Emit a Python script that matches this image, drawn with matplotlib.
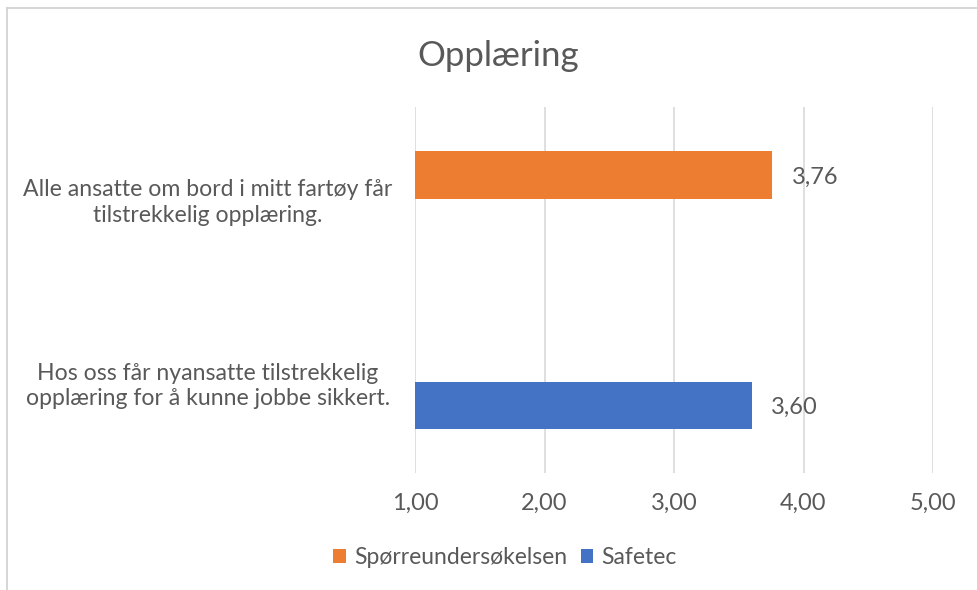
import matplotlib
matplotlib.use("Agg")
import matplotlib.pyplot as plt
import numpy as np
from matplotlib.patches import Patch
from matplotlib.lines import Line2D

categories = ["Alle ansatte om bord i mitt fartøy får\ntilstrekkelig opplæring.",
              "Hos oss får nyansatte tilstrekkelig\nopplæring for å kunne jobbe sikkert."]
series_names = ["Spørreundersøkelsen", "Safetec"]
sporre_values = [3.76, np.nan]
safetec_values = [np.nan, 3.60]
xticks = [1, 2, 3, 4, 5]
xtick_labels = ["1,00", "2,00", "3,00", "4,00", "5,00"]
title = "Opplæring"

colors = ["#ED7D31", "#4472C4"]
text_color = "#595959"
grid_color = "#D9D9D9"

plt.rcParams['font.family'] = ['Lato', 'DejaVu Sans']

fig = plt.figure(figsize=(9.78, 5.90), dpi=100)
ax = fig.add_axes([415/978, 1-473/590, (933-415)/978, (473-107)/590])

y = np.arange(len(categories))
h = 0.257
base = 1.0
for vals, off, col, name in [(sporre_values, -h/2, colors[0], series_names[0]),
                             (safetec_values, h/2, colors[1], series_names[1])]:
    v = np.array(vals, dtype=float)
    mask = ~np.isnan(v)
    ax.barh(y[mask] + off, v[mask] - base, left=base, height=h, color=col, label=name)
    for yy, vv in zip(y[mask] + off, v[mask]):
        ax.annotate(f"{vv:.2f}".replace(".", ","), xy=(vv, yy), xytext=(14, -2),
                    textcoords="offset points", va="center", ha="left",
                    fontsize=17, color=text_color)

ax.set_xlim(1, 5)
ax.set_ylim(1.5, -0.5)
ax.set_xticks(xticks)
ax.set_xticklabels(xtick_labels, fontsize=17, color=text_color)
ax.set_yticks(y)
ax.set_yticklabels(categories, fontsize=16.6, color=text_color, ha="center", linespacing=1.25)
ax.tick_params(axis="y", length=0, pad=149)
ax.tick_params(axis="x", length=0, pad=14)
ax.grid(axis="x", color=grid_color, linewidth=1.2)
ax.set_axisbelow(True)
for s in ax.spines.values():
    s.set_visible(False)

fig.text(498/978, 1-56/590, title, ha="center", va="center", fontsize=25,
         color=text_color)

handles = [Patch(facecolor=colors[0]), Patch(facecolor=colors[1])]
fig.legend(handles, series_names, loc="center", bbox_to_anchor=(505/978, 1-558/590),
           ncol=2, frameon=False, fontsize=16.5, labelcolor=text_color,
           handlelength=0.55, handleheight=0.55, handletextpad=0.35, columnspacing=0.6)

# chart border (top and left)
fig.add_artist(Line2D([7/978, 1], [1-8/590, 1-8/590], color="#D0D0D0", linewidth=1.2))
fig.add_artist(Line2D([7/978, 7/978], [0, 1-8/590], color="#D0D0D0", linewidth=1.2))

fig.savefig("out.png", dpi=100, facecolor="white")
